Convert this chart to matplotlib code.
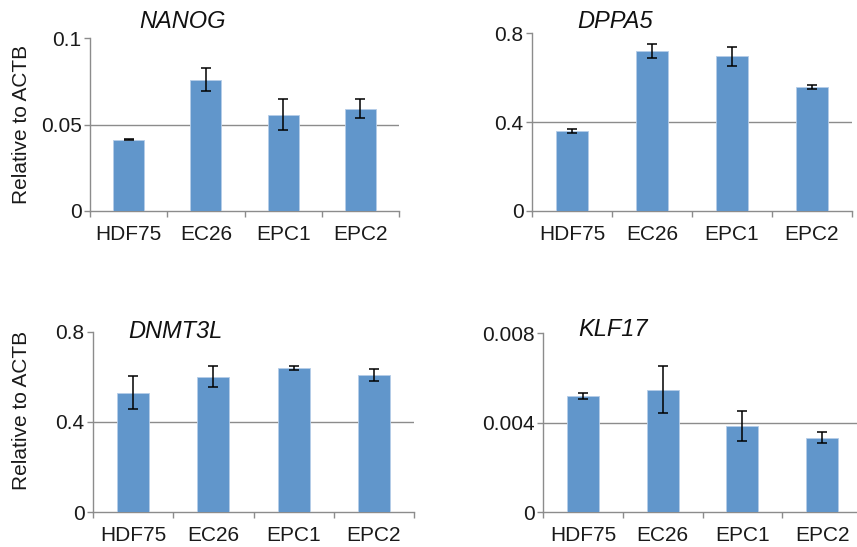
import matplotlib
matplotlib.use("Agg")
import matplotlib.pyplot as plt

plt.rcParams["font.family"] = ["Liberation Sans", "DejaVu Sans"]

# data (relative expression to ACTB)
cells = ["HDF75", "EC26", "EPC1", "EPC2"]

nanog = [0.0412, 0.0759, 0.0557, 0.0590]
nanog_err = [0.0003, 0.0067, 0.0088, 0.0055]

dppa5 = [0.359, 0.722, 0.696, 0.556]
dppa5_err = [0.009, 0.032, 0.044, 0.009]

dnmt3l = [0.529, 0.600, 0.639, 0.608]
dnmt3l_err = [0.074, 0.046, 0.010, 0.027]

klf17 = [0.00521, 0.00548, 0.00385, 0.00333]
klf17_err = [0.00013, 0.00104, 0.00068, 0.00023]

W, H = 857, 547
BAR = "#6196CB"
AXIS = "#8C8C8C"


def px_axes(fig, left, right, top, bottom):
    return fig.add_axes([left / W, 1 - bottom / H, (right - left) / W, (bottom - top) / H])


def panel(ax, values, errs, ymax, yticks, yticklabels):
    x = list(range(len(cells)))
    ax.bar(x, values, width=0.4, color=BAR, edgecolor="#B5CDE8", linewidth=0.6, zorder=3)
    ax.errorbar(x, values, yerr=errs, fmt="none", ecolor="black", elinewidth=1.1,
                capsize=3.5, capthick=1.1, zorder=4)
    ax.set_xlim(-0.5, len(cells) - 0.5)
    ax.set_ylim(0, ymax)
    ax.axhline(yticks[1], color=AXIS, linewidth=1.0, zorder=1)

    ax.set_yticks(yticks)
    ax.set_yticklabels(yticklabels)
    ax.set_xticks([i - 0.5 for i in range(len(cells) + 1)])
    ax.set_xticklabels([])
    ax.set_xticks(x, minor=True)
    ax.set_xticklabels(cells, minor=True)

    for s in ("top", "right"):
        ax.spines[s].set_visible(False)
    for s in ("left", "bottom"):
        ax.spines[s].set_color(AXIS)
        ax.spines[s].set_linewidth(1.0)
    ax.tick_params(axis="y", which="major", length=4, width=1, color=AXIS,
                   labelsize=15, pad=2, labelcolor="#1a1a1a")
    ax.tick_params(axis="x", which="major", length=4, width=1, color=AXIS)
    ax.tick_params(axis="x", which="minor", length=0, pad=10, labelsize=15,
                   labelcolor="#1a1a1a")
    ax.set_facecolor("none")


fig = plt.figure(figsize=(W / 100, H / 100), dpi=100)

ax1 = px_axes(fig, 90, 399, 38, 211)
panel(ax1, nanog, nanog_err, 0.1, [0, 0.05, 0.1], ["0", "0.05", "0.1"])
ax2 = px_axes(fig, 532, 852, 33.3, 210.7)
panel(ax2, dppa5, dppa5_err, 0.8, [0, 0.4, 0.8], ["0", "0.4", "0.8"])
ax3 = px_axes(fig, 93, 414, 331.7, 512)
panel(ax3, dnmt3l, dnmt3l_err, 0.8, [0, 0.4, 0.8], ["0", "0.4", "0.8"])
ax4 = px_axes(fig, 543, 862, 333.3, 512)
panel(ax4, klf17, klf17_err, 0.008, [0, 0.004, 0.008], ["0", "0.004", "0.008"])

# gene names, italic, above each panel
titles = [("NANOG", 183, 22), ("DPPA5", 615, 22), ("DNMT3L", 175, 331), ("KLF17", 613, 330)]
for name, tx, ty in titles:
    fig.text(tx / W, 1 - ty / H, name, style="italic", fontsize=17,
             ha="center", va="center", color="#111111")

for cy in (124, 410):
    fig.text(22 / W, 1 - cy / H, "Relative to ACTB", rotation=90, fontsize=15,
             ha="center", va="center", color="#1a1a1a")

fig.savefig("out.png", dpi=100)
